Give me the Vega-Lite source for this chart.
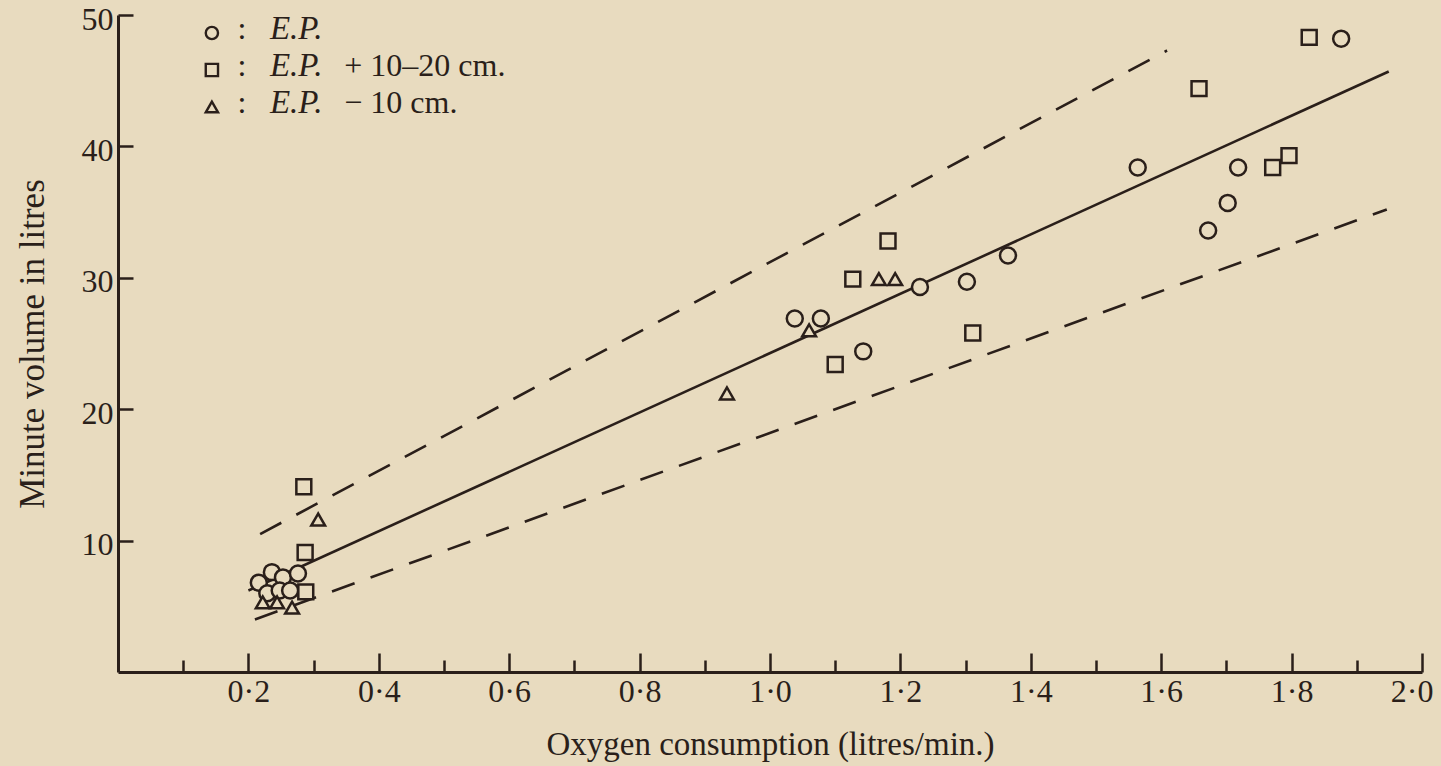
{
  "$schema": "https://vega.github.io/schema/vega-lite/v6.json",
  "width": 1304,
  "height": 657,
  "autosize": {"type": "none"},
  "padding": {"left": 118, "top": 15, "right": 19, "bottom": 94},
  "background": "#e8dbbf",
  "config": {
    "view": {"stroke": null},
    "font": "Liberation Serif",
    "axis": {
      "grid": false,
      "domainColor": "#2a1f1a",
      "domainWidth": 3,
      "tickColor": "#2a1f1a",
      "tickWidth": 2.5,
      "labelColor": "#2a1f1a",
      "titleColor": "#2a1f1a",
      "labelFont": "Liberation Serif",
      "titleFont": "Liberation Serif",
      "labelFontSize": 32,
      "titleFontSize": 33,
      "titleFontWeight": "normal"
    }
  },
  "datasets": {
    "points": [
      {"o2": 0.216, "ve": 6.8, "group": "E.P."},
      {"o2": 0.236, "ve": 7.6, "group": "E.P."},
      {"o2": 0.253, "ve": 7.2, "group": "E.P."},
      {"o2": 0.276, "ve": 7.5, "group": "E.P."},
      {"o2": 0.229, "ve": 6.0, "group": "E.P."},
      {"o2": 0.248, "ve": 6.2, "group": "E.P."},
      {"o2": 0.264, "ve": 6.2, "group": "E.P."},
      {"o2": 1.038, "ve": 26.9, "group": "E.P."},
      {"o2": 1.078, "ve": 26.9, "group": "E.P."},
      {"o2": 1.143, "ve": 24.4, "group": "E.P."},
      {"o2": 1.230, "ve": 29.3, "group": "E.P."},
      {"o2": 1.302, "ve": 29.7, "group": "E.P."},
      {"o2": 1.365, "ve": 31.7, "group": "E.P."},
      {"o2": 1.564, "ve": 38.4, "group": "E.P."},
      {"o2": 1.672, "ve": 33.6, "group": "E.P."},
      {"o2": 1.702, "ve": 35.7, "group": "E.P."},
      {"o2": 1.718, "ve": 38.4, "group": "E.P."},
      {"o2": 1.876, "ve": 48.2, "group": "E.P."},
      {"o2": 0.288, "ve": 6.1, "group": "E.P. + 10–20 cm."},
      {"o2": 0.287, "ve": 9.1, "group": "E.P. + 10–20 cm."},
      {"o2": 0.285, "ve": 14.1, "group": "E.P. + 10–20 cm."},
      {"o2": 1.100, "ve": 23.4, "group": "E.P. + 10–20 cm."},
      {"o2": 1.127, "ve": 29.9, "group": "E.P. + 10–20 cm."},
      {"o2": 1.181, "ve": 32.8, "group": "E.P. + 10–20 cm."},
      {"o2": 1.311, "ve": 25.8, "group": "E.P. + 10–20 cm."},
      {"o2": 1.658, "ve": 44.4, "group": "E.P. + 10–20 cm."},
      {"o2": 1.771, "ve": 38.4, "group": "E.P. + 10–20 cm."},
      {"o2": 1.796, "ve": 39.3, "group": "E.P. + 10–20 cm."},
      {"o2": 1.827, "ve": 48.3, "group": "E.P. + 10–20 cm."},
      {"o2": 0.222, "ve": 5.3, "group": "E.P. − 10 cm."},
      {"o2": 0.244, "ve": 5.3, "group": "E.P. − 10 cm."},
      {"o2": 0.267, "ve": 4.9, "group": "E.P. − 10 cm."},
      {"o2": 0.307, "ve": 11.6, "group": "E.P. − 10 cm."},
      {"o2": 0.934, "ve": 21.2, "group": "E.P. − 10 cm."},
      {"o2": 1.060, "ve": 26.0, "group": "E.P. − 10 cm."},
      {"o2": 1.167, "ve": 29.9, "group": "E.P. − 10 cm."},
      {"o2": 1.192, "ve": 29.9, "group": "E.P. − 10 cm."}
    ],
    "lines": [
      {"kind": "fit", "x": 0.2, "y": 6.2, "x2": 1.949, "y2": 45.7},
      {"kind": "limit", "x": 0.218, "y": 10.5, "x2": 1.609, "y2": 47.3},
      {"kind": "limit", "x": 0.21, "y": 4.0, "x2": 1.946, "y2": 35.2}
    ],
    "legend": [
      {"group": "E.P.", "sep": ":", "ital": "E.P.", "rest": ""},
      {"group": "E.P. + 10–20 cm.", "sep": ":", "ital": "E.P.", "rest": "+ 10–20 cm."},
      {"group": "E.P. − 10 cm.", "sep": ":", "ital": "E.P.", "rest": "− 10 cm."}
    ]
  },
  "layer": [
    {
      "layer": [
        {
          "data": {"name": "lines"},
          "transform": [{"filter": "datum.kind == 'fit'"}],
          "mark": {"type": "rule", "stroke": "#2a1f1a", "strokeWidth": 2.6},
          "encoding": {
            "x": {"field": "x", "type": "quantitative", "scale": {"domain": [0, 2.0], "nice": false, "zero": false},
              "title": "Oxygen consumption (litres/min.)",
              "axis": {
                "values": [0.1, 0.2, 0.3, 0.4, 0.5, 0.6, 0.7, 0.8, 0.9, 1.0, 1.1, 1.2, 1.3, 1.4, 1.5, 1.6, 1.7, 1.8, 1.9, 2.0],
                "labelExpr": "round(datum.value*10) % 2 == 0 ? replace(format(datum.value, '.1f'), '.', '·') : ''",
                "tickSize": {"condition": {"test": "round(datum.value*10) % 2 == 0", "value": -19}, "value": -12},
                "labelPadding": 23,
                "labelOverlap": false,
                "labelFlush": true,
                "labelFlushOffset": 11,
                "titlePadding": 14
              }
            },
            "y": {"field": "y", "type": "quantitative", "scale": {"domain": [0, 50], "nice": false, "zero": false},
              "title": "Minute volume in litres",
              "axis": {
                "values": [10, 20, 30, 40, 50],
                "tickSize": -15,
                "labelPadding": 20,
                "labelOffset": 4,
                "titlePadding": 31,
                "titleFontSize": 35
              }
            },
            "x2": {"field": "x2"},
            "y2": {"field": "y2"}
          }
        },
        {
          "data": {"name": "lines"},
          "transform": [{"filter": "datum.kind == 'limit'"}],
          "mark": {"type": "rule", "stroke": "#2a1f1a", "strokeWidth": 2.6, "strokeDash": [24, 17]},
          "encoding": {
            "x": {"field": "x", "type": "quantitative", "title": "Oxygen consumption (litres/min.)"},
            "y": {"field": "y", "type": "quantitative", "title": "Minute volume in litres"},
            "x2": {"field": "x2"},
            "y2": {"field": "y2"}
          }
        },
        {
          "data": {"name": "points"},
          "mark": {"type": "point", "filled": true, "fill": "#e8dbbf", "fillOpacity": 1, "stroke": "#2a1f1a", "strokeWidth": 2.5, "opacity": 1},
          "encoding": {
            "x": {"field": "o2", "type": "quantitative", "title": "Oxygen consumption (litres/min.)"},
            "y": {"field": "ve", "type": "quantitative", "title": "Minute volume in litres"},
            "shape": {"field": "group", "type": "nominal",
              "scale": {"domain": ["E.P.", "E.P. + 10–20 cm.", "E.P. − 10 cm."], "range": ["circle", "square", "triangle-up"]},
              "legend": null},
            "size": {"field": "group", "type": "nominal",
              "scale": {"domain": ["E.P.", "E.P. + 10–20 cm.", "E.P. − 10 cm."], "range": [255, 190, 280]},
              "legend": null}
          }
        }
      ]
    },
    {
      "data": {"name": "legend"},
      "encoding": {
        "y": {"field": "group", "type": "nominal",
          "scale": {"type": "point", "padding": 0, "domain": ["E.P.", "E.P. + 10–20 cm.", "E.P. − 10 cm."], "range": [18, 92]},
          "axis": null}
      },
      "layer": [
        {
          "mark": {"type": "point", "filled": true, "fill": "#e8dbbf", "stroke": "#2a1f1a", "strokeWidth": 2.4, "size": 150, "opacity": 1},
          "encoding": {
            "x": {"datum": 0.144, "type": "quantitative", "title": "Oxygen consumption (litres/min.)"},
            "shape": {"field": "group", "type": "nominal", "legend": null}
          }
        },
        {
          "mark": {"type": "text", "align": "center", "baseline": "alphabetic", "dy": 6, "fontSize": 32, "font": "Liberation Serif", "fill": "#2a1f1a"},
          "encoding": {
            "x": {"datum": 0.19, "type": "quantitative", "title": "Oxygen consumption (litres/min.)"},
            "text": {"field": "sep"}
          }
        },
        {
          "mark": {"type": "text", "align": "left", "baseline": "alphabetic", "dy": 6, "fontSize": 33, "font": "Liberation Serif", "fontStyle": "italic", "fill": "#2a1f1a"},
          "encoding": {
            "x": {"datum": 0.233, "type": "quantitative", "title": "Oxygen consumption (litres/min.)"},
            "text": {"field": "ital"}
          }
        },
        {
          "mark": {"type": "text", "align": "left", "baseline": "alphabetic", "dy": 6, "fontSize": 32, "font": "Liberation Serif", "fill": "#2a1f1a"},
          "encoding": {
            "x": {"datum": 0.347, "type": "quantitative", "title": "Oxygen consumption (litres/min.)"},
            "text": {"field": "rest"}
          }
        }
      ]
    }
  ],
  "resolve": {"scale": {"y": "independent"}, "axis": {"y": "independent"}}
}
